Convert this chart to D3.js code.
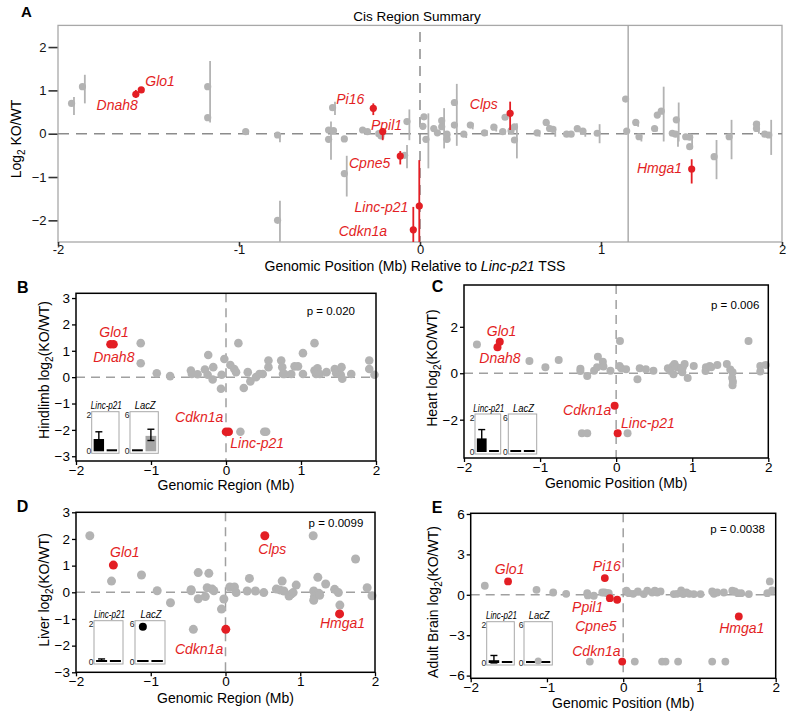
<!DOCTYPE html>
<html><head><meta charset="utf-8">
<script src="https://cdn.jsdelivr.net/npm/d3@7"></script>
<style>body{margin:0;background:#fff}svg{display:block}</style>
</head><body><svg id="c" width="800" height="715"></svg>
<script>
const FONT='"Liberation Sans", Arial, Helvetica, sans-serif';
const GRAY="#b3b3b3", RED="#e31e24";

// ---------- Panel A data: [x (Mb), log2 KO/WT, errLow, errHigh] ----------
const aXTicks=[-2,-1,0,1,2], aYTicks=[-2,-1,0,1,2];
const aBoundary=1.15;
const aGray=[
 [-1.925,0.70,0.43,0.85],[-1.865,1.085,0.70,1.36],[-1.173,1.085,0.26,1.68],[-1.173,0.37],
 [-0.963,0.05],[-0.787,-0.03,-0.2,0.0],[-0.787,-2.0,-2.5,-1.55],[-0.505,0.085],[-0.478,0.07],
 [-0.505,-0.13,-0.6,0.28],[-0.483,0.6,0.43,0.74],[-0.418,-0.12],[-0.418,-0.92,-1.45,-0.51],
 [-0.317,0.085],[-0.29,0.05],[-0.228,0.0],[-0.216,-0.05,-0.12,0.0],[-0.085,-0.5,-0.8,-0.26],
 [-0.072,0.28,-0.15,0.56],[0.022,0.39],[0.016,0.17],[0.033,-0.13,-0.8,0.47],[0.076,0.12],
 [0.096,0.02],[0.12,0.3],[0.12,0.16,-0.34,0.59],[0.149,-0.01],[0.149,-0.13,-0.18,0.0],
 [0.19,0.72],[0.19,0.2,-0.28,1.15],[0.242,-0.01,-0.1,0.0],[0.278,0.2,0.1,0.25],
 [0.356,0.02,-0.05,0.08],[0.408,0.15,0.05,0.2],[0.457,0.05,-0.02,0.08],[0.47,0.38],[0.503,0.07],
 [0.522,0.16],[0.522,-0.145,-0.57,0.24],[0.647,0.02,-0.07,0.08],[0.697,0.26,0.12,0.28],
 [0.716,0.12],[0.734,0.1,-0.07,0.16],[0.81,-0.01],[0.835,-0.01],[0.869,0.115],[0.9,0.06,-0.07,0.08],
 [0.979,0.01,-0.22,0.22],[1.136,0.80],[1.142,0.06],[1.192,0.26,0.16,0.3],[1.21,-0.07,-0.18,-0.02],
 [1.296,0.12,0.05,0.15],[1.311,0.43],[1.333,0.52,-0.18,1.085],[1.394,0.01],[1.412,-0.01,-0.3,0.05],
 [1.416,0.32,-0.18,0.72],[1.468,-0.07],[1.49,-0.08],[1.49,-0.3,-0.35,-0.02],[1.625,-0.53,-1.05,-0.145],
 [1.708,-0.07,-0.59,0.32],[1.859,0.22],[1.859,0.12,0.0,0.28],[1.905,-0.01],[1.927,-0.03,-0.49,0.32]
];
const aRed=[
 ["Dnah8",-1.57,0.91,0.83,1.01],["Glo1",-1.54,1.01],["Pi16",-0.258,0.585,0.43,0.70],
 ["Ppil1",-0.206,0.05,-0.15,0.12],["Cpne5",-0.109,-0.515,-0.71,-0.40],["Cdkn1a",-0.037,-2.22,-2.5,-1.69],
 ["Linc-p21",-0.004,-1.67,-2.5,-0.61],["Clps",0.498,0.47,0.085,0.74],["Hmga1",1.501,-0.815,-1.15,-0.59]
];

// ---------- Panels B-E data: [x (Mb), log2(KO/WT)] ----------
const bGray=[[-1.137,1.29],[-1.137,0.53],[-0.923,0.15],[-0.745,0.04],[-0.468,0.25],[-0.455,0.12],[-0.379,0.11],
 [-0.281,0.29],[-0.237,0.84],[-0.245,0.09],[-0.17,0.38],[-0.178,-0.09],[-0.067,-0.44],[-0.058,0.09],[-0.022,0.69],
 [0.058,0.46],[0.11,0.31],[0.134,0.19],[0.165,1.29],[0.192,-2.07],[0.237,-0.41],[0.29,0.19],[0.325,-0.16],[0.40,0.0],
 [0.446,0.12],[0.49,0.12],[0.51,-2.07],[0.535,-2.07],[0.566,0.38],[0.566,0.63],[0.736,0.63],[0.75,0.38],[0.76,0.12],
 [0.78,0.12],[0.87,0.12],[0.914,0.41],[0.96,0.41],[1.026,0.91],[1.026,0.12],[1.18,1.29],[1.18,0.25],[1.2,0.12],
 [1.22,0.34],[1.25,0.12],[1.34,0.19],[1.45,0.31],[1.47,0.15],[1.53,0.09],[1.54,0.38],[1.55,-0.06],[1.67,0.12],
 [1.91,0.63],[1.91,0.31],[1.98,0.09]];
const bRed=[["Dnah8",-1.54,1.25],["Glo1",-1.50,1.25],["Cdkn1a",0.0,-2.07],["Linc-p21",0.036,-2.07]];

const cGray=[[-1.83,1.24],[-1.14,0.53],[-0.93,0.26],[-0.755,0.57],[-0.47,0.19],[-0.47,0.1],[-0.38,-0.12],[-0.29,0.11],
 [-0.24,0.71],[-0.25,0.26],[-0.175,0.5],[-0.167,0.29],[-0.075,0.11],[-0.45,-2.58],[-0.38,-2.58],[0.15,-2.58],
 [0.05,1.39],[0.044,0.31],[0.066,0.21],[0.13,0.17],[0.28,-0.26],[0.31,0.21],[0.39,0.17],[0.49,0.11],[0.68,0.21],
 [0.71,0.11],[0.745,0.31],[0.767,0.4],[0.754,-0.04],[0.80,0.26],[0.855,0.16],[0.877,0.26],[0.9,0.4],[0.87,0.04],
 [0.94,-0.2],[1.02,0.31],[1.175,0.1],[1.18,0.26],[1.23,0.31],[1.25,0.26],[1.33,0.36],[1.455,0.4],[1.50,0.16],
 [1.53,0.04],[1.525,-0.2],[1.535,-0.37],[1.53,-0.52],[1.74,1.39],[1.895,0.31],[1.895,0.07],[1.965,0.36]];
const cRed=[["Glo1",-1.53,1.36],["Dnah8",-1.56,1.12],["Cdkn1a",-0.02,-1.40],["Linc-p21",0.02,-2.58]];

const dGray=[[-1.815,2.12],[-1.525,0.42],[-1.124,0.65],[-0.914,0.06],[-0.736,-0.39],[-0.46,0.1],[-0.46,0.06],
 [-0.43,-1.39],[-0.365,0.74],[-0.365,-0.24],[-0.27,-0.16],[-0.223,0.71],[-0.245,0.17],[-0.178,0.12],[-0.156,0.06],
 [-0.054,-0.63],[-0.022,-0.25],[0.058,0.2],[0.12,0.2],[0.143,-0.01],[0.29,0.05],[0.32,0.52],[0.40,0.05],
 [0.512,-0.01],[0.68,0.12],[0.727,0.09],[0.758,0.42],[0.78,0.05],[0.85,-0.14],[0.878,-0.07],[0.905,-0.01],
 [0.946,0.27],[1.173,2.12],[1.18,0.05],[1.19,-0.16],[1.18,-0.3],[1.235,0.56],[1.25,-0.04],[1.26,-0.11],
 [1.34,0.31],[1.46,0.11],[1.51,-0.01],[1.53,-0.48],[1.74,1.25],[1.895,0.17],[1.96,-0.13]];
const dRed=[["Glo1",-1.50,1.02],["Cdkn1a",0.004,-1.39],["Clps",0.526,2.12],["Hmga1",1.526,-0.81]];

const eGray=[[-1.815,0.67],[-1.137,0.37],[-0.918,0.17],[-0.748,0.07],[-0.472,0.12],[-0.464,-0.05],[-0.385,-0.07],
 [-0.275,0.17],[-0.245,0.17],[-0.21,0.12],[-0.189,0.12],[0.043,0.30],[0.074,0.12],[0.131,0.07],[0.192,0.25],
 [0.27,0.05],[0.315,0.30],[0.38,0.17],[0.415,0.30],[0.446,0.17],[0.49,0.25],[0.664,0.05],[0.708,0.07],[0.76,0.32],
 [0.787,0.05],[0.83,0.17],[0.866,0.07],[0.926,0.05],[1.014,0.05],[1.167,0.25],[1.19,0.07],[1.233,0.17],[1.32,0.17],
 [1.43,0.30],[1.464,0.25],[1.503,0.12],[1.547,0.12],[1.648,0.05],[1.89,0.12],[1.923,0.99],[1.954,0.32],
 [-0.438,-4.96],[0.152,-4.96],[0.51,-4.96],[0.555,-4.96],[0.72,-4.96],[1.167,-4.96],[1.34,-4.96]];
const eRed=[["Glo1",-1.51,0.99],["Pi16",-0.241,1.24],["Ppil1",-0.175,-0.25],["Cpne5",-0.079,-0.37],
 ["Cdkn1a",-0.013,-4.96],["Hmga1",1.516,-1.61]];

const pValues={B:"p = 0.020",C:"p = 0.006",D:"p = 0.0099",E:"p = 0.0038"};
const xTicks=[-2,-1,0,1,2];

// ---------- Inset bar values [WT, KO] and error ----------
const insetGroups=["WT","KO"];
const bLinc=[0.69,0.02], bLincErr=[0.35,0], bLacZ=[0.02,2.6], bLacZErr=[0,0.95];
const cLinc=[0.8,0.03], cLincErr=[0.46,0], cLacZ=[0.05,0.08], cLacZErr=[0,0];
const dLinc=[0.05,0.03], dLincErr=[0.06,0], dLacZ=[0.03,0.05], dLacZErr=[0,0];
const eLinc=[0.15,0.03], eLincErr=[0.2,0], eLacZ=[0.03,0.05], eLacZErr=[0,0];
const dLacZPoint=5.5, eLacZPoint=0.15;

// ---------- drawing ----------
const svg=d3.select("#c");
const fmtInt=d3.format("d");

function ylabelText(sel,prefix,suffix){
  sel.append("tspan").text(prefix+"log");
  sel.append("tspan").text("2").attr("font-size","10px").attr("dy",4);
  sel.append("tspan").text(suffix).attr("dy",-4);
}

function drawA(){
  const g=svg.append("g").attr("font-family",FONT);
  const x=d3.scaleLinear().domain([-2,2]).range([58,782]);
  const y=d3.scaleLinear().domain([-2.5,2.5]).range([242,25.4]);
  g.append("rect").attr("x",58).attr("y",25.4).attr("width",724).attr("height",216.6)
   .attr("fill","none").attr("stroke","#a8a8a8").attr("stroke-width",1.3);
  g.append("line").attr("x1",x(-2)).attr("x2",x(2)).attr("y1",y(0)).attr("y2",y(0))
   .attr("stroke","#8c8c8c").attr("stroke-width",1.5).attr("stroke-dasharray","11,7");
  g.append("line").attr("x1",x(0)).attr("x2",x(0)).attr("y1",y(2.35)).attr("y2",y(-2.5))
   .attr("stroke","#8c8c8c").attr("stroke-width",1.5).attr("stroke-dasharray","10,7");
  g.append("line").attr("x1",x(aBoundary)).attr("x2",x(aBoundary)).attr("y1",y(2.5)).attr("y2",y(-2.5))
   .attr("stroke","#a0a0a0").attr("stroke-width",1.3);
  g.selectAll("line.ge").data(aGray.filter(d=>d.length>2)).join("line")
   .attr("x1",d=>x(d[0])+2.4).attr("x2",d=>x(d[0])+2.4).attr("y1",d=>y(d[2])).attr("y2",d=>y(d[3]))
   .attr("stroke",GRAY).attr("stroke-width",1.8);
  g.selectAll("circle.gp").data(aGray).join("circle")
   .attr("cx",d=>x(d[0])).attr("cy",d=>y(d[1])).attr("r",3.6).attr("fill",GRAY);
  g.selectAll("line.re").data(aRed.filter(d=>d.length>3)).join("line")
   .attr("x1",d=>x(d[1])).attr("x2",d=>x(d[1])).attr("y1",d=>y(d[3])).attr("y2",d=>y(d[4]))
   .attr("stroke",RED).attr("stroke-width",1.8);
  g.selectAll("circle.rp").data(aRed).join("circle")
   .attr("cx",d=>x(d[1])).attr("cy",d=>y(d[2])).attr("r",3.6).attr("fill",RED);
  const lab={Glo1:[4,-4.3,"start"],Dnah8:[2,15.7,"end"],Pi16:[-9,-4.3,"end"],Ppil1:[-11.7,-1.7,"start"],
    Cpne5:[-10,12,"end"],"Linc-p21":[-11,5.5,"end"],Cdkn1a:[-26.3,6,"end"],Clps:[-12.3,-4,"end"],Hmga1:[-9.6,4.3,"end"]};
  g.selectAll("text.rl").data(aRed).join("text")
   .attr("x",d=>x(d[1])+lab[d[0]][0]).attr("y",d=>y(d[2])+lab[d[0]][1]).attr("text-anchor",d=>lab[d[0]][2])
   .attr("font-size","14px").attr("font-style","italic").attr("fill",RED).text(d=>d[0]);
  const ya=g.append("g").attr("transform","translate(57.5,0)")
   .call(d3.axisLeft(y).tickValues(aYTicks).tickSize(9).tickPadding(2).tickFormat(d=>d<0?"\u2212"+(-d):d));
  const xa=g.append("g").attr("transform","translate(0,242)")
   .call(d3.axisBottom(x).tickValues(aXTicks).tickSize(4).tickPadding(-1).tickFormat(d=>d<0?"-"+(-d):d));
  [ya,xa].forEach(a=>{a.select(".domain").remove();a.attr("font-family",FONT).attr("font-size","13px");
    a.selectAll("line").attr("stroke","#333").attr("stroke-width",1.6);a.selectAll("text").attr("fill","#111");});
  g.append("text").attr("x",21).attr("y",16.7).attr("font-size","15px").attr("font-weight","bold").text("A");
  g.append("text").attr("x",417).attr("y",21).attr("text-anchor","middle").attr("font-size","13.5px").text("Cis Region Summary");
  const xl=g.append("text").attr("x",415).attr("y",271).attr("text-anchor","middle").attr("font-size","14px");
  xl.append("tspan").text("Genomic Position (Mb) Relative to ");
  xl.append("tspan").attr("font-style","italic").text("Linc-p21");
  xl.append("tspan").text(" TSS");
  const yl=g.append("text").attr("transform","translate(21,139) rotate(-90)").attr("text-anchor","middle").attr("font-size","14px");
  yl.append("tspan").text("Log");
  yl.append("tspan").text("2").attr("font-size","10px").attr("dy",4);
  yl.append("tspan").text(" KO/WT").attr("dy",-4);
}

function drawInset(g,ins,linc,lincErr,lacz,laczErr,colors,extraPoint){
  const boxes=[{name:"Linc-p21",xr:ins.linc,max:2,vals:linc,err:lincErr,col:colors[0],tl:31},
               {name:"LacZ",xr:ins.lacz,max:6,vals:lacz,err:laczErr,col:colors[1],tl:21}];
  boxes.forEach((b,bi)=>{
    const y=d3.scaleLinear().domain([0,b.max]).range([ins.bot-3,ins.top+3]);
    const x=d3.scaleBand().domain(insetGroups).range(b.xr).paddingInner(0.2).paddingOuter(0.15);
    g.append("rect").attr("x",b.xr[0]).attr("y",ins.top).attr("width",b.xr[1]-b.xr[0]).attr("height",ins.bot-ins.top)
     .attr("fill","#fff").attr("stroke","#a8a8a8").attr("stroke-width",1);
    g.append("text").attr("x",(b.xr[0]+b.xr[1])/2+1).attr("y",ins.top-2.5).attr("text-anchor","middle")
     .attr("font-size","10px").attr("font-style","italic")
     .attr("textLength",b.tl).attr("lengthAdjust","spacingAndGlyphs").text(b.name);
    [0,b.max].forEach(t=>g.append("text").attr("x",b.xr[0]-0.5).attr("y",y(t)+3.5).attr("text-anchor","end")
     .attr("font-size","8.5px").attr("fill","#222").text(t));
    insetGroups.forEach((grp,i)=>{
      const v=b.vals[i], h=Math.max(2,y(0)-y(v));
      g.append("rect").attr("x",x(grp)).attr("width",x.bandwidth()).attr("y",y(0)-h+1).attr("height",h)
       .attr("fill",b.col[i]);
      const e=b.err[i];
      if(e>0){
        const cx=x(grp)+x.bandwidth()/2;
        g.append("line").attr("x1",cx).attr("x2",cx).attr("y1",y(v-e)).attr("y2",y(v+e)).attr("stroke","#000").attr("stroke-width",1.4);
        [v-e,v+e].forEach(vv=>g.append("line").attr("x1",cx-3.5).attr("x2",cx+3.5).attr("y1",y(vv)).attr("y2",y(vv))
          .attr("stroke","#000").attr("stroke-width",1.4));
      }
    });
    if(extraPoint && extraPoint.box===bi){
      const cx=extraPoint.mid? (x("WT")+x("KO")+x.bandwidth())/2 : x("WT")+x.bandwidth()/2;
      g.append("circle").attr("cx",cx).attr("cy",y(extraPoint.v)).attr("r",extraPoint.r).attr("fill",extraPoint.c);
    }
  });
}

function drawPanel(cfg,gray,red,labels,insetArgs){
  const g=svg.append("g").attr("font-family",FONT);
  const x=d3.scaleLinear().domain([-2,2]).range([cfg.x0,cfg.x1]);
  const y=d3.scaleLinear().domain(cfg.yDom).range([cfg.bot,cfg.top]);
  g.append("line").attr("x1",cfg.x0).attr("x2",cfg.x1).attr("y1",y(0)).attr("y2",y(0))
   .attr("stroke","#a0a0a0").attr("stroke-width",1.5).attr("stroke-dasharray","9,6");
  g.append("line").attr("x1",x(0)).attr("x2",x(0)).attr("y1",cfg.top).attr("y2",cfg.bot)
   .attr("stroke","#a0a0a0").attr("stroke-width",1.5).attr("stroke-dasharray","9,6");
  drawInset(g,...insetArgs);
  g.selectAll("circle.gp").data(gray).join("circle")
   .attr("cx",d=>x(d[0])).attr("cy",d=>y(d[1])).attr("r",cfg.r).attr("fill",GRAY);
  g.selectAll("circle.rp").data(red).join("circle")
   .attr("cx",d=>x(d[1])).attr("cy",d=>y(d[2])).attr("r",cfg.r).attr("fill",RED);
  g.selectAll("text.rl").data(red).join("text")
   .attr("x",d=>x(d[1])+labels[d[0]][0]).attr("y",d=>y(d[2])+labels[d[0]][1]).attr("text-anchor",d=>labels[d[0]][2])
   .attr("font-size","14px").attr("font-style","italic").attr("fill",RED).text(d=>d[0]);
  g.append("rect").attr("x",cfg.x0).attr("y",cfg.top).attr("width",cfg.x1-cfg.x0).attr("height",cfg.bot-cfg.top)
   .attr("fill","none").attr("stroke","#000").attr("stroke-width",1.5);
  const ya=g.append("g").attr("transform",`translate(${cfg.x0},0)`)
   .call(d3.axisLeft(y).tickValues(cfg.yTicks).tickSize(4).tickPadding(2).tickFormat(fmtInt));
  const xa=g.append("g").attr("transform",`translate(0,${cfg.bot})`)
   .call(d3.axisBottom(x).tickValues(xTicks).tickSize(4).tickPadding(0).tickFormat(fmtInt));
  [ya,xa].forEach(a=>{a.select(".domain").remove();a.attr("font-family",FONT).attr("font-size","13.5px");
    a.selectAll("line").attr("stroke","#000").attr("stroke-width",1.3);a.selectAll("text").attr("fill","#000");});
  g.append("text").attr("x",cfg.letter[0]).attr("y",cfg.letter[1]).attr("font-size","16px").attr("font-weight","bold").text(cfg.id);
  g.append("text").attr("x",cfg.pPos[0]).attr("y",cfg.pPos[1]).attr("text-anchor","end").attr("font-size","11.5px").text(pValues[cfg.id]);
  g.append("text").attr("x",(cfg.x0+cfg.x1)/2).attr("y",cfg.xlabY).attr("text-anchor","middle").attr("font-size","14px").text(cfg.xlabel);
  const yl=g.append("text").attr("transform",`translate(${cfg.ylab[0]},${cfg.ylab[1]}) rotate(-90)`)
   .attr("text-anchor","middle").attr("font-size","14px");
  ylabelText(yl,cfg.ylabel+" ","(KO/WT)");
}

drawA();

const K="#000", G2="#a6a6a6";
drawPanel({id:"B",x0:76,x1:376,top:293.3,bot:461,yDom:[-3.18,3.18],yTicks:[-3,-2,-1,0,1,2,3],r:4.3,
  letter:[17,293],pPos:[355,315],xlabel:"Genomic Region (Mb)",xlabY:490,ylabel:"Hindlimb",ylab:[49,370]},
  bGray,bRed,{Glo1:[0.6,-7,"middle"],Dnah8:[3.3,17.7,"middle"],Cdkn1a:[-2.7,-10,"end"],"Linc-p21":[1.6,16,"start"]},
  [{linc:[91.7,119],lacz:[130,158.3],top:411.7,bot:453.3},bLinc,bLincErr,bLacZ,bLacZErr,[[K,K],[K,G2]],null]);

drawPanel({id:"C",x0:464,x1:768.3,top:285,bot:458,yDom:[-3.65,3.8],yTicks:[-2,0,2],r:4,
  letter:[431.7,292.3],pPos:[759.3,309],xlabel:"Genomic Position (Mb)",xlabY:487.5,ylabel:"Heart",ylab:[437,368]},
  cGray,cRed,{Glo1:[1.8,-5.7,"middle"],Dnah8:[2.5,16,"middle"],Cdkn1a:[-3.3,9,"end"],"Linc-p21":[3.4,-5,"start"]},
  [{linc:[475,500.7],lacz:[508.3,536.7],top:414,bot:454},cLinc,cLincErr,cLacZ,cLacZErr,[[K,K],[K,K]],null]);

drawPanel({id:"D",x0:76,x1:375,top:512.3,bot:672.3,yDom:[-3,3],yTicks:[-3,-2,-1,0,1,2,3],r:4.5,
  letter:[16.7,512.3],pPos:[363.3,526.7],xlabel:"Genomic Region (Mb)",xlabY:703,ylabel:"Liver",ylab:[49,590]},
  dGray,dRed,{Glo1:[11.5,-8.3,"middle"],Clps:[7.5,18,"middle"],Hmga1:[3,14.5,"middle"],Cdkn1a:[-2.6,24.7,"end"]},
  [{linc:[94,123],lacz:[135,165],top:620.7,bot:664},dLinc,dLincErr,dLacZ,dLacZErr,[[K,K],[K,K]],
   {box:1,v:dLacZPoint,r:4,c:"#000",mid:false}]);

drawPanel({id:"E",x0:470.7,x1:775.7,top:513.3,bot:678.3,yDom:[-6.2,6.05],yTicks:[-6,-3,0,3,6],r:3.9,
  letter:[431.7,513.3],pPos:[765,532.7],xlabel:"Genomic Position (Mb)",xlabY:708,ylabel:"Adult Brain",ylab:[438,602]},
  eGray,eRed,{Glo1:[1.6,-7.7,"middle"],Pi16:[2,-6.6,"middle"],Ppil1:[-6.6,14,"end"],Cpne5:[-0.7,31,"end"],
   Cdkn1a:[-1.7,-5.7,"end"],Hmga1:[3,17,"middle"]},
  [{linc:[486.7,514.3],lacz:[524,552.3],top:621.7,bot:665},eLinc,eLincErr,eLacZ,eLacZErr,[[K,K],[K,K]],
   {box:1,v:eLacZPoint,r:3.5,c:GRAY,mid:true}]);
</script></body></html>
